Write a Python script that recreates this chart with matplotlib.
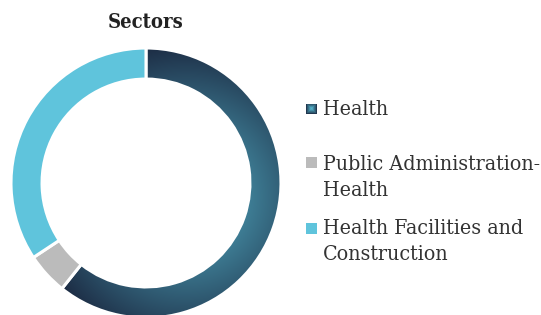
import matplotlib.pyplot as plt
import numpy as np
from matplotlib.colors import to_rgb
from matplotlib.patches import Rectangle

# data
sectors = ["Health", "Public Administration-\nHealth", "Health Facilities and\nConstruction"]
shares = [60.7, 5.0, 34.3]
colors = ["#1c2b43", "#bbbbbb", "#5fc4dc"]

W, H = 541, 315
fig = plt.figure(figsize=(W / 100, H / 100), dpi=100)
serif = "DejaVu Serif"

# donut axes, placed in pixels
cx, cy, rad = 146, 183, 135
ax = fig.add_axes([(cx - rad) / W, (H - cy - rad) / H, 2 * rad / W, 2 * rad / H])
wedges, _ = ax.pie(shares, colors=colors, startangle=90, counterclock=False,
                   wedgeprops=dict(width=0.23, edgecolor="white", linewidth=2.2))
ax.set_xlim(-1, 1)
ax.set_ylim(-1, 1)
ax.set_aspect("equal")
ax.axis("off")

# radial gradient on the Health slice
light = np.array(to_rgb("#55b5cc"))
dark = np.array(to_rgb("#1c2b43"))
g = np.linspace(-1, 1, 600)
xx, yy = np.meshgrid(g, g[::-1])
d = np.hypot(xx - 0.3, yy + 0.1)
t = np.clip(d / 1.15, 0, 1)[..., None]
img = light * (1 - t) + dark * t
im = ax.imshow(img, extent=(-1, 1, -1, 1), zorder=1, interpolation="bilinear")
im.set_clip_path(wedges[0])
wedges[0].set_facecolor("none")
for w in wedges:
    w.set_zorder(2)

fig.text(cx / W, 1 - 22 / H, "Sectors", ha="center", va="center",
         fontsize=14.5, fontweight="bold", family=serif, fontstretch="condensed",
         color="#222222")

# legend
marker_y = [109, 162.5, 228]
base_y = [115, 170, 234]
line_h = 26.5
ms = 11
for i, (lab, col) in enumerate(zip(sectors, colors)):
    my = marker_y[i]
    if i == 0:
        lax = fig.add_axes([(311.5 - ms / 2) / W, (H - my - ms / 2) / H, ms / W, ms / H])
        s = np.linspace(-1, 1, 30)
        sx, sy = np.meshgrid(s, s)
        tt = np.clip(np.maximum(abs(sx), abs(sy)) ** 1.3, 0, 1)[..., None]
        lax.imshow(light * (1 - tt) + dark * tt, extent=(-1, 1, -1, 1), interpolation="nearest")
        lax.axis("off")
    else:
        fig.patches.append(Rectangle(((311.5 - ms / 2) / W, (H - my - ms / 2) / H), ms / W, ms / H,
                                     transform=fig.transFigure, facecolor=col, edgecolor="none"))
    for k, line in enumerate(lab.split("\n")):
        fig.text(323 / W, 1 - (base_y[i] + k * line_h) / H, line, ha="left", va="baseline",
                 fontsize=15.3, family=serif, fontstretch="condensed", color="#333333")

fig.savefig("out.png", dpi=100)
